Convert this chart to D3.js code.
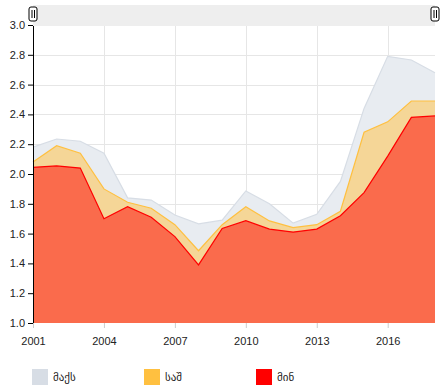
<!DOCTYPE html>
<html>
<head>
<meta charset="utf-8">
<script src="https://cdn.jsdelivr.net/npm/d3@7"></script>
<style>
  body { margin: 0; background: #fff; }
  svg { font-family: "Liberation Sans", Arial, "DejaVu Sans", sans-serif; }
  .grid line { stroke: #e6e6e6; }
</style>
</head>
<body>
<div id="chart"></div>
<script>
// 数据
const years = d3.range(2001, 2019);
const maxVals = [2.18, 2.235, 2.22, 2.14, 1.84, 1.825, 1.725, 1.665, 1.69, 1.886, 1.80, 1.67, 1.73, 1.95, 2.44, 2.79, 2.765, 2.68];
const avgVals = [2.08, 2.19, 2.14, 1.90, 1.81, 1.77, 1.66, 1.485, 1.66, 1.78, 1.685, 1.64, 1.66, 1.75, 2.28, 2.35, 2.49, 2.49];
const minVals = [2.045, 2.054, 2.04, 1.70, 1.78, 1.71, 1.58, 1.39, 1.635, 1.687, 1.63, 1.61, 1.63, 1.72, 1.875, 2.12, 2.38, 2.39];
const seriesNames = ["მაქს", "საშ", "მინ"];
const xTicks = [2001, 2004, 2007, 2010, 2013, 2016];

const width = 447, height = 389;
const margin = { top: 25, right: 12, bottom: 66, left: 33 };

const svg = d3.select("#chart").append("svg")
  .attr("width", width)
  .attr("height", height);

const x = d3.scaleLinear().domain([2001, 2018]).range([margin.left, width - margin.right]);
const y = d3.scaleLinear().domain([1, 3]).range([height - margin.bottom, margin.top]);

// 网格
svg.append("g").attr("class", "grid")
  .selectAll("line.h").data(d3.range(1.2, 3.01, 0.2)).enter().append("line")
  .attr("x1", margin.left).attr("x2", width - margin.right)
  .attr("y1", d => Math.round(y(d)) + 0.5).attr("y2", d => Math.round(y(d)) + 0.5);
svg.append("g").attr("class", "grid")
  .selectAll("line.v").data(xTicks).enter().append("line")
  .attr("y1", y(3)).attr("y2", y(1))
  .attr("x1", d => Math.round(x(d)) + 0.5).attr("x2", d => Math.round(x(d)) + 0.5);

// 面积
const series = [
  { name: seriesNames[0], vals: maxVals, fill: "#e8ecf1", stroke: "#d7dde5" },
  { name: seriesNames[1], vals: avgVals, fill: "#f5d697", stroke: "#ffc040" },
  { name: seriesNames[2], vals: minVals, fill: "#fa6b4c", stroke: "#ff0000" }
];

series.forEach(s => {
  const pts = years.map((yr, i) => [yr, s.vals[i]]);
  svg.append("path")
    .datum(pts)
    .attr("fill", s.fill)
    .attr("d", d3.area().x(d => x(d[0])).y0(y(1)).y1(d => y(d[1])));
  svg.append("path")
    .datum(pts)
    .attr("fill", "none")
    .attr("stroke", s.stroke)
    .attr("stroke-width", 1.2)
    .attr("d", d3.line().x(d => x(d[0])).y(d => y(d[1])));
});

// 坐标轴
const yAxis = svg.append("g")
  .attr("transform", `translate(${margin.left},0)`)
  .call(d3.axisLeft(y).tickValues(d3.range(1, 3.01, 0.2)).tickFormat(d3.format(".1f")).tickSize(5).tickSizeOuter(0));
yAxis.selectAll("text").attr("font-size", 11).attr("fill", "#222");
yAxis.selectAll("line, path").attr("stroke", "#000");

const xAxis = svg.append("g")
  .attr("transform", `translate(0,${y(1)})`)
  .call(d3.axisBottom(x).tickValues(xTicks).tickFormat(d3.format("d")).tickSize(5).tickPadding(9));
xAxis.select(".domain").remove();
xAxis.selectAll("line").attr("stroke", "#ccc");
xAxis.selectAll("text").attr("font-size", 11).attr("fill", "#222");

// 刷选条
const brush = svg.append("g");
brush.append("rect")
  .attr("x", margin.left).attr("y", 5)
  .attr("width", x(2018) - margin.left).attr("height", 21)
  .attr("fill", "#eeeeee");
[x(2001), x(2018)].forEach(hx => {
  const h = brush.append("g").attr("transform", `translate(${hx},14)`);
  h.append("rect").attr("x", -4).attr("y", -7).attr("width", 8).attr("height", 14)
    .attr("rx", 2).attr("fill", "#fff").attr("stroke", "#000");
  h.append("line").attr("x1", -1).attr("x2", -1).attr("y1", -4).attr("y2", 4).attr("stroke", "#000");
  h.append("line").attr("x1", 1.5).attr("x2", 1.5).attr("y1", -4).attr("y2", 4).attr("stroke", "#000");
});

// 图例
const legend = svg.append("g");
const legendX = [32, 144, 256];
const legendColors = ["#d7dde5", "#ffc040", "#ff0000"];
seriesNames.forEach((n, i) => {
  legend.append("rect").attr("x", legendX[i]).attr("y", 369).attr("width", 16).attr("height", 16)
    .attr("fill", legendColors[i]);
  legend.append("text").attr("x", legendX[i] + 21).attr("y", 381)
    .attr("font-size", 11).attr("fill", "#222").text(n);
});
</script>
</body>
</html>
